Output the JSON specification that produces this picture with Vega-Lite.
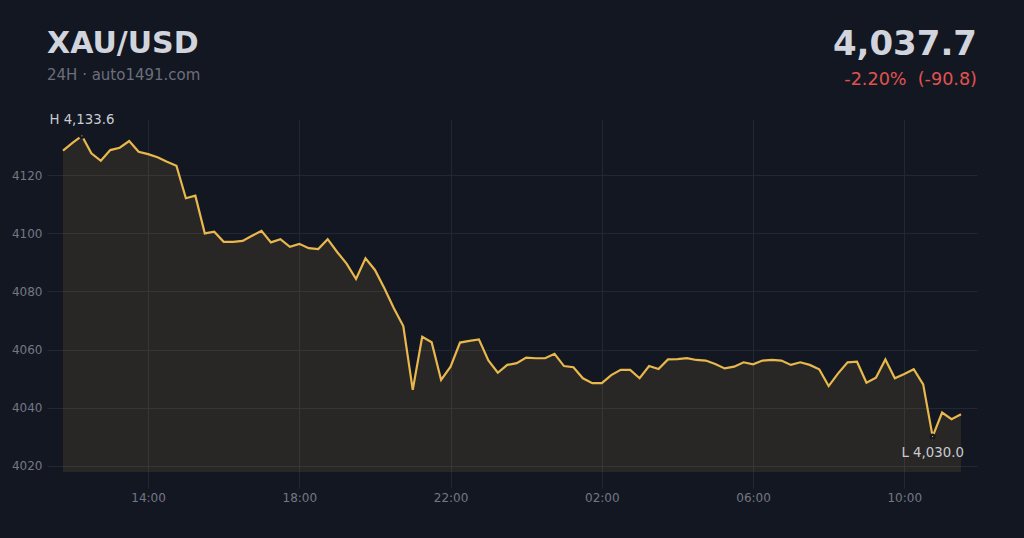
{
  "$schema": "https://vega.github.io/schema/vega-lite/v6.json",
  "width": 930,
  "height": 369,
  "autosize": {"type": "none"},
  "padding": {"left": 47, "top": 119, "right": 47, "bottom": 50},
  "background": "#131722",
  "config": {
    "view": {"stroke": null},
    "axis": {
      "gridColor": "#232733",
      "gridWidth": 1,
      "labelColor": "#737782",
      "labelFont": "DejaVu Sans",
      "labelFontSize": 12,
      "domain": false,
      "ticks": false,
      "title": null
    }
  },
  "datasets": {
    "header": [
      {"label": "XAU/USD", "kind": "title"},
      {"label": "24H · auto1491.com", "kind": "subtitle"},
      {"label": "4,037.7", "kind": "price"},
      {"label": "-2.20%\u00a0\u00a0(-90.8)", "kind": "change"}
    ]
  },
  "data": {
    "values": [
      {"t": "2025-01-01T11:45:00", "p": 4128.5},
      {"t": "2025-01-01T12:00:00", "p": 4131.2},
      {"t": "2025-01-01T12:15:00", "p": 4133.6},
      {"t": "2025-01-01T12:30:00", "p": 4127.6},
      {"t": "2025-01-01T12:45:00", "p": 4125.0},
      {"t": "2025-01-01T13:00:00", "p": 4128.7},
      {"t": "2025-01-01T13:15:00", "p": 4129.5},
      {"t": "2025-01-01T13:30:00", "p": 4131.8},
      {"t": "2025-01-01T13:45:00", "p": 4128.1},
      {"t": "2025-01-01T14:00:00", "p": 4127.3},
      {"t": "2025-01-01T14:15:00", "p": 4126.2},
      {"t": "2025-01-01T14:30:00", "p": 4124.7},
      {"t": "2025-01-01T14:45:00", "p": 4123.3},
      {"t": "2025-01-01T15:00:00", "p": 4112.1},
      {"t": "2025-01-01T15:15:00", "p": 4113.0},
      {"t": "2025-01-01T15:30:00", "p": 4100.0},
      {"t": "2025-01-01T15:45:00", "p": 4100.6},
      {"t": "2025-01-01T16:00:00", "p": 4097.1},
      {"t": "2025-01-01T16:15:00", "p": 4097.1},
      {"t": "2025-01-01T16:30:00", "p": 4097.4},
      {"t": "2025-01-01T16:45:00", "p": 4099.2},
      {"t": "2025-01-01T17:00:00", "p": 4100.9},
      {"t": "2025-01-01T17:15:00", "p": 4096.9},
      {"t": "2025-01-01T17:30:00", "p": 4098.0},
      {"t": "2025-01-01T17:45:00", "p": 4095.4},
      {"t": "2025-01-01T18:00:00", "p": 4096.4},
      {"t": "2025-01-01T18:15:00", "p": 4094.9},
      {"t": "2025-01-01T18:30:00", "p": 4094.6},
      {"t": "2025-01-01T18:45:00", "p": 4098.0},
      {"t": "2025-01-01T19:00:00", "p": 4093.6},
      {"t": "2025-01-01T19:15:00", "p": 4089.6},
      {"t": "2025-01-01T19:30:00", "p": 4084.3},
      {"t": "2025-01-01T19:45:00", "p": 4091.4},
      {"t": "2025-01-01T20:00:00", "p": 4087.4},
      {"t": "2025-01-01T20:15:00", "p": 4081.1},
      {"t": "2025-01-01T20:30:00", "p": 4074.2},
      {"t": "2025-01-01T20:45:00", "p": 4068.1},
      {"t": "2025-01-01T21:00:00", "p": 4046.1},
      {"t": "2025-01-01T21:15:00", "p": 4064.4},
      {"t": "2025-01-01T21:30:00", "p": 4062.5},
      {"t": "2025-01-01T21:45:00", "p": 4049.5},
      {"t": "2025-01-01T22:00:00", "p": 4054.1},
      {"t": "2025-01-01T22:15:00", "p": 4062.4},
      {"t": "2025-01-01T22:30:00", "p": 4063.0},
      {"t": "2025-01-01T22:45:00", "p": 4063.5},
      {"t": "2025-01-01T23:00:00", "p": 4056.2},
      {"t": "2025-01-01T23:15:00", "p": 4052.0},
      {"t": "2025-01-01T23:30:00", "p": 4054.7},
      {"t": "2025-01-01T23:45:00", "p": 4055.3},
      {"t": "2025-01-02T00:00:00", "p": 4057.2},
      {"t": "2025-01-02T00:15:00", "p": 4057.0},
      {"t": "2025-01-02T00:30:00", "p": 4057.0},
      {"t": "2025-01-02T00:45:00", "p": 4058.5},
      {"t": "2025-01-02T01:00:00", "p": 4054.3},
      {"t": "2025-01-02T01:15:00", "p": 4053.9},
      {"t": "2025-01-02T01:30:00", "p": 4050.1},
      {"t": "2025-01-02T01:45:00", "p": 4048.4},
      {"t": "2025-01-02T02:00:00", "p": 4048.4},
      {"t": "2025-01-02T02:15:00", "p": 4051.2},
      {"t": "2025-01-02T02:30:00", "p": 4053.0},
      {"t": "2025-01-02T02:45:00", "p": 4053.0},
      {"t": "2025-01-02T03:00:00", "p": 4050.1},
      {"t": "2025-01-02T03:15:00", "p": 4054.3},
      {"t": "2025-01-02T03:30:00", "p": 4053.3},
      {"t": "2025-01-02T03:45:00", "p": 4056.6},
      {"t": "2025-01-02T04:00:00", "p": 4056.7},
      {"t": "2025-01-02T04:15:00", "p": 4057.0},
      {"t": "2025-01-02T04:30:00", "p": 4056.4},
      {"t": "2025-01-02T04:45:00", "p": 4056.2},
      {"t": "2025-01-02T05:00:00", "p": 4055.0},
      {"t": "2025-01-02T05:15:00", "p": 4053.5},
      {"t": "2025-01-02T05:30:00", "p": 4054.1},
      {"t": "2025-01-02T05:45:00", "p": 4055.6},
      {"t": "2025-01-02T06:00:00", "p": 4054.9},
      {"t": "2025-01-02T06:15:00", "p": 4056.2},
      {"t": "2025-01-02T06:30:00", "p": 4056.4},
      {"t": "2025-01-02T06:45:00", "p": 4056.2},
      {"t": "2025-01-02T07:00:00", "p": 4054.7},
      {"t": "2025-01-02T07:15:00", "p": 4055.6},
      {"t": "2025-01-02T07:30:00", "p": 4054.7},
      {"t": "2025-01-02T07:45:00", "p": 4053.2},
      {"t": "2025-01-02T08:00:00", "p": 4047.4},
      {"t": "2025-01-02T08:15:00", "p": 4051.8},
      {"t": "2025-01-02T08:30:00", "p": 4055.6},
      {"t": "2025-01-02T08:45:00", "p": 4055.8},
      {"t": "2025-01-02T09:00:00", "p": 4048.6},
      {"t": "2025-01-02T09:15:00", "p": 4050.3},
      {"t": "2025-01-02T09:30:00", "p": 4056.6},
      {"t": "2025-01-02T09:45:00", "p": 4050.1},
      {"t": "2025-01-02T10:00:00", "p": 4051.6},
      {"t": "2025-01-02T10:15:00", "p": 4053.2},
      {"t": "2025-01-02T10:30:00", "p": 4048.0},
      {"t": "2025-01-02T10:45:00", "p": 4030.0},
      {"t": "2025-01-02T11:00:00", "p": 4038.3},
      {"t": "2025-01-02T11:15:00", "p": 4036.0},
      {"t": "2025-01-02T11:30:00", "p": 4037.7}
    ]
  },
  "encoding": {
    "x": {
      "field": "t",
      "type": "temporal",
      "scale": {
        "domain": [
          {"year": 2025, "month": 1, "date": 1, "hours": 11, "minutes": 19, "seconds": 36},
          {"year": 2025, "month": 1, "date": 2, "hours": 11, "minutes": 55, "seconds": 24}
        ]
      },
      "axis": {
        "format": "%H:%M",
        "labelPadding": 4,
        "values": [
          {"year": 2025, "month": 1, "date": 1, "hours": 14},
          {"year": 2025, "month": 1, "date": 1, "hours": 18},
          {"year": 2025, "month": 1, "date": 1, "hours": 22},
          {"year": 2025, "month": 1, "date": 2, "hours": 2},
          {"year": 2025, "month": 1, "date": 2, "hours": 6},
          {"year": 2025, "month": 1, "date": 2, "hours": 10}
        ]
      }
    },
    "y": {
      "field": "p",
      "type": "quantitative",
      "scale": {"domain": [4012.3, 4139.4], "nice": false, "zero": false},
      "axis": {"values": [4020, 4040, 4060, 4080, 4100, 4120], "format": "d", "labelPadding": 5}
    }
  },
  "layer": [
    {
      "mark": {"type": "area", "color": "#e8b84d", "opacity": 0.1},
      "encoding": {"y2": {"datum": 4017.8}}
    },
    {
      "mark": {"type": "line", "color": "#e8b84d", "strokeWidth": 2.2}
    },
    {
      "transform": [
        {"joinaggregate": [{"op": "max", "field": "p", "as": "pmax"}, {"op": "min", "field": "p", "as": "pmin"}]},
        {"filter": "datum.p === datum.pmax || datum.p === datum.pmin"}
      ],
      "mark": {"type": "point", "filled": true, "fill": "#e8b84d", "stroke": "#131722", "strokeWidth": 2.5, "size": 14, "opacity": 1}
    },
    {
      "transform": [
        {"joinaggregate": [{"op": "max", "field": "p", "as": "pmax"}]},
        {"filter": "datum.p === datum.pmax"},
        {"calculate": "'H ' + format(datum.p, ',.1f')", "as": "label"}
      ],
      "mark": {"type": "text", "align": "center", "baseline": "alphabetic", "dy": -12, "font": "DejaVu Sans", "fontSize": 13.3, "color": "#c9ccd3"},
      "encoding": {"text": {"field": "label"}}
    },
    {
      "transform": [
        {"joinaggregate": [{"op": "min", "field": "p", "as": "pmin"}]},
        {"filter": "datum.p === datum.pmin"},
        {"calculate": "'L ' + format(datum.p, ',.1f')", "as": "label"}
      ],
      "mark": {"type": "text", "align": "center", "baseline": "alphabetic", "dy": 20, "font": "DejaVu Sans", "fontSize": 13.3, "color": "#c9ccd3"},
      "encoding": {"text": {"field": "label"}}
    },
    {
      "data": {"name": "header"},
      "transform": [{"filter": "datum.kind === 'title'"}],
      "mark": {"type": "text", "align": "left", "baseline": "alphabetic", "font": "DejaVu Sans", "fontSize": 30, "fontWeight": "bold", "color": "#d1d4dc"},
      "encoding": {"x": {"value": 0}, "y": {"value": -66}, "text": {"field": "label"}}
    },
    {
      "data": {"name": "header"},
      "transform": [{"filter": "datum.kind === 'subtitle'"}],
      "mark": {"type": "text", "align": "left", "baseline": "alphabetic", "font": "DejaVu Sans", "fontSize": 15, "color": "#6b6f7b"},
      "encoding": {"x": {"value": 0}, "y": {"value": -39}, "text": {"field": "label"}}
    },
    {
      "data": {"name": "header"},
      "transform": [{"filter": "datum.kind === 'price'"}],
      "mark": {"type": "text", "align": "right", "baseline": "alphabetic", "font": "DejaVu Sans", "fontSize": 34, "fontWeight": "bold", "color": "#d1d4dc"},
      "encoding": {"x": {"value": "width"}, "y": {"value": -64}, "text": {"field": "label"}}
    },
    {
      "data": {"name": "header"},
      "transform": [{"filter": "datum.kind === 'change'"}],
      "mark": {"type": "text", "align": "right", "baseline": "alphabetic", "font": "DejaVu Sans", "fontSize": 17.6, "color": "#e0534f"},
      "encoding": {"x": {"value": "width"}, "y": {"value": -34}, "text": {"field": "label"}}
    }
  ]
}
